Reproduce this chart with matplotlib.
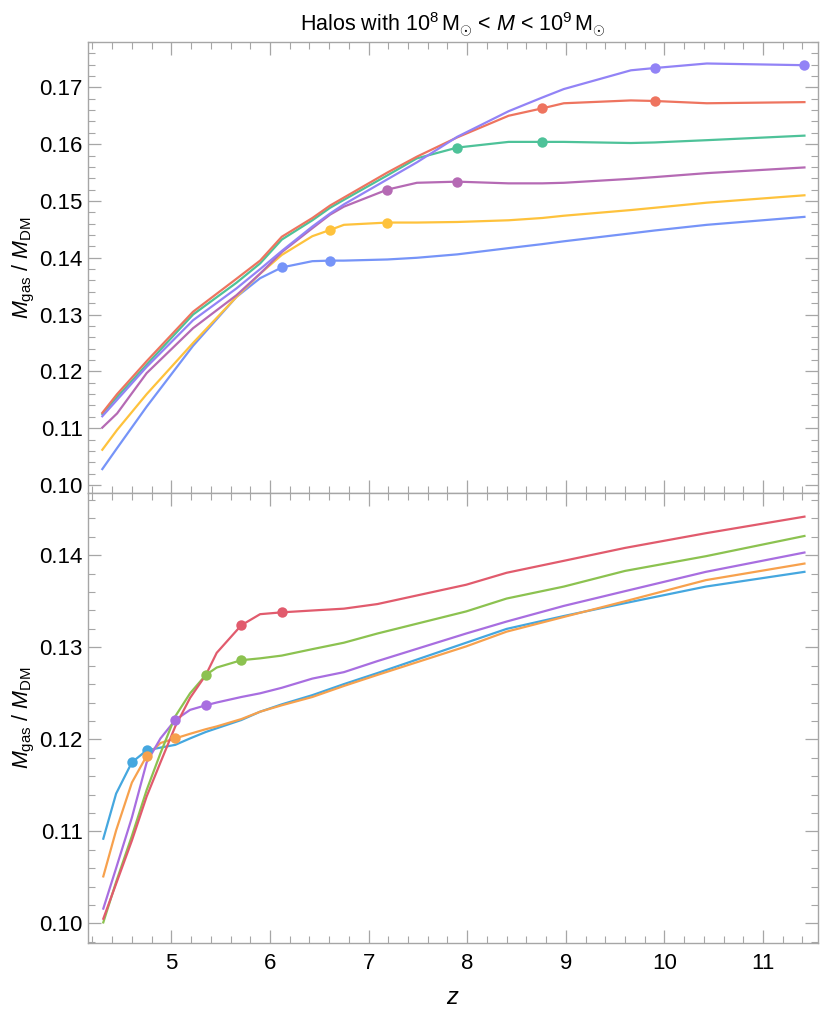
import matplotlib
matplotlib.use("Agg")
import matplotlib.pyplot as plt
from matplotlib.ticker import MultipleLocator, FixedLocator

plt.rcParams['font.family'] = ['Liberation Sans', 'DejaVu Sans']
plt.rcParams['mathtext.fontset'] = 'custom'
plt.rcParams['mathtext.rm'] = 'Liberation Sans'
plt.rcParams['mathtext.it'] = 'Liberation Sans:italic'
plt.rcParams['mathtext.bf'] = 'Liberation Sans:bold'

# ---------------- data: top panel ----------------
z_top = [4.30, 4.45, 4.75, 5.22, 5.66, 5.90, 6.12, 6.43, 6.61, 6.75, 7.19,
         7.49, 7.90, 8.42, 8.76, 8.98, 9.66, 9.90, 10.43, 11.42]
top_blue = [0.1028, 0.1065, 0.1138, 0.1245, 0.1331, 0.1364, 0.1383, 0.1394, 0.1395, 0.1395,
            0.1397, 0.1400, 0.1406, 0.1417, 0.1424, 0.1429, 0.1443, 0.1448, 0.1458, 0.1472]
top_yellow = [0.1062, 0.1097, 0.1160, 0.1250, 0.1331, 0.1372, 0.1405, 0.1438, 0.1449, 0.1458,
              0.1462, 0.1462, 0.1463, 0.1466, 0.1470, 0.1474, 0.1484, 0.1488, 0.1497, 0.1510]
top_magenta = [0.1101, 0.1126, 0.1197, 0.1276, 0.1334, 0.1372, 0.1410, 0.1452, 0.1476, 0.1490,
               0.1520, 0.1532, 0.1534, 0.1531, 0.1531, 0.1532, 0.1539, 0.1542, 0.1549, 0.1559]
top_green = [0.1125, 0.1155, 0.1212, 0.1300, 0.1356, 0.1390, 0.1432, 0.1466, 0.1488, 0.1502,
             0.1545, 0.1575, 0.1594, 0.1604, 0.1604, 0.1604, 0.1602, 0.1603, 0.1607, 0.1615]
top_red = [0.1127, 0.1160, 0.1218, 0.1305, 0.1363, 0.1395, 0.1437, 0.1470, 0.1492, 0.1506,
           0.1550, 0.1578, 0.1612, 0.1650, 0.1663, 0.1672, 0.1677, 0.1676, 0.1672, 0.1674]
top_violet = [0.1121, 0.1150, 0.1208, 0.1290, 0.1346, 0.1380, 0.1412, 0.1455, 0.1478, 0.1494,
              0.1538, 0.1568, 0.1613, 0.1658, 0.1682, 0.1697, 0.1730, 0.1734, 0.1742, 0.1739]
# redshifts of the two marked points of each top series
top_blue_dots = [6.12, 6.61]
top_yellow_dots = [6.61, 7.19]
top_magenta_dots = [7.19, 7.90]
top_green_dots = [7.90, 8.76]
top_red_dots = [8.76, 9.90]
top_violet_dots = [9.90, 11.42]

# ---------------- data: bottom panel ----------------
z_bot = [4.31, 4.44, 4.60, 4.75, 4.89, 5.04, 5.19, 5.35, 5.46, 5.71, 5.90, 6.12,
         6.43, 6.75, 7.09, 7.99, 8.40, 8.98, 9.60, 10.42, 11.42]
bot_blue = [0.1092, 0.1141, 0.1175, 0.1188, 0.1191, 0.1194, 0.1201, 0.1208, 0.1212, 0.1221, 0.1230,
            0.1238, 0.1248, 0.1260, 0.1272, 0.1305, 0.1320, 0.1334, 0.1348, 0.1366, 0.1382]
bot_orange = [0.1051, 0.1101, 0.1153, 0.1182, 0.1196, 0.1201, 0.1206, 0.1211, 0.1214, 0.1222, 0.1230,
              0.1237, 0.1246, 0.1258, 0.1270, 0.1301, 0.1317, 0.1333, 0.1350, 0.1373, 0.1391]
bot_purple = [0.1016, 0.1060, 0.1115, 0.1175, 0.1201, 0.1221, 0.1232, 0.1237, 0.1240, 0.1246, 0.1250,
              0.1256, 0.1266, 0.1273, 0.1285, 0.1315, 0.1328, 0.1345, 0.1361, 0.1382, 0.1403]
bot_green = [0.1001, 0.1045, 0.1095, 0.1145, 0.1185, 0.1225, 0.1250, 0.1270, 0.1278, 0.1286, 0.1288,
             0.1291, 0.1298, 0.1305, 0.1315, 0.1339, 0.1353, 0.1366, 0.1383, 0.1399, 0.1421]
bot_red = [0.1005, 0.1043, 0.1090, 0.1138, 0.1175, 0.1214, 0.1245, 0.1270, 0.1294, 0.1324, 0.1336,
           0.1338, 0.1340, 0.1342, 0.1347, 0.1368, 0.1381, 0.1394, 0.1408, 0.1424, 0.1442]
bot_blue_dots = [4.60, 4.75]
bot_orange_dots = [4.75, 5.04]
bot_purple_dots = [5.04, 5.35]
bot_green_dots = [5.35, 5.71]
bot_red_dots = [5.71, 6.12]

x_ticks = [5, 6, 7, 8, 9, 10, 11]
top_yticks = [0.10, 0.11, 0.12, 0.13, 0.14, 0.15, 0.16, 0.17]
bot_yticks = [0.10, 0.11, 0.12, 0.13, 0.14]

title = r"Halos with $10^8\,\mathrm{M}_{\odot}$ < $M$ < $10^9\,\mathrm{M}_{\odot}$"
ylabel = r"$M_{\mathrm{gas}}$ / $M_{\mathrm{DM}}$"
xlabel = r"$z$"

top_series = [
    (z_top, top_blue, top_blue_dots, '#7694F8'),
    (z_top, top_yellow, top_yellow_dots, '#FEC23C'),
    (z_top, top_magenta, top_magenta_dots, '#B56AB4'),
    (z_top, top_green, top_green_dots, '#4EC299'),
    (z_top, top_red, top_red_dots, '#EE745F'),
    (z_top, top_violet, top_violet_dots, '#9283F6'),
]
bot_series = [
    (z_bot, bot_blue, bot_blue_dots, '#45A7DF'),
    (z_bot, bot_orange, bot_orange_dots, '#F7A14D'),
    (z_bot, bot_purple, bot_purple_dots, '#A86EE0'),
    (z_bot, bot_green, bot_green_dots, '#8CC250'),
    (z_bot, bot_red, bot_red_dots, '#E15B6D'),
]

fig = plt.figure(figsize=(8.30, 10.13), dpi=100)
left, width = 0.1064, 0.8792
ax_top = fig.add_axes([left, 0.5136, width, 0.4452])
ax_bot = fig.add_axes([left, 0.0688, width, 0.4448])

frame_col = '#A6A6A6'


def style(ax, yticks, ylim):
    ax.set_xlim(4.158, 11.558)
    ax.set_ylim(*ylim)
    ax.xaxis.set_major_locator(FixedLocator(x_ticks))
    ax.xaxis.set_minor_locator(MultipleLocator(0.2))
    ax.yaxis.set_major_locator(FixedLocator(yticks))
    ax.yaxis.set_minor_locator(MultipleLocator(0.002))
    ax.set_yticklabels([f"{t:.2f}" for t in yticks])
    ax.tick_params(which='both', direction='in', top=True, right=True,
                   color=frame_col, labelsize=16, labelcolor='black')
    ax.tick_params(which='major', length=9.4, width=0.9, pad=4)
    ax.tick_params(which='minor', length=4.8, width=0.8)
    ax.tick_params(axis='x', which='major', pad=7)
    for sp in ax.spines.values():
        sp.set_color(frame_col)
        sp.set_linewidth(1.0)
    ax.set_ylabel(ylabel, fontsize=15.5, labelpad=2)


def draw(ax, series):
    for zs, vs, dots, col in series:
        ax.plot(zs, vs, color=col, lw=1.6, solid_joinstyle='round', zorder=2)
        dz = [z for z in zs if any(abs(z - d) < 1e-9 for d in dots)]
        dv = [v for z, v in zip(zs, vs) if any(abs(z - d) < 1e-9 for d in dots)]
        ax.plot(dz, dv, 'o', color=col, ms=7.5, mec='none', zorder=3)


draw(ax_top, top_series)
draw(ax_bot, bot_series)
style(ax_top, top_yticks, (0.09864, 0.17803))
style(ax_bot, bot_yticks, (0.09783, 0.1468))
ax_top.tick_params(axis='x', labelbottom=False)
ax_bot.set_xlabel(xlabel, fontsize=17, labelpad=9)
ax_top.set_title(title, fontsize=15.5, pad=7)

fig.savefig('out.png', dpi=100)
